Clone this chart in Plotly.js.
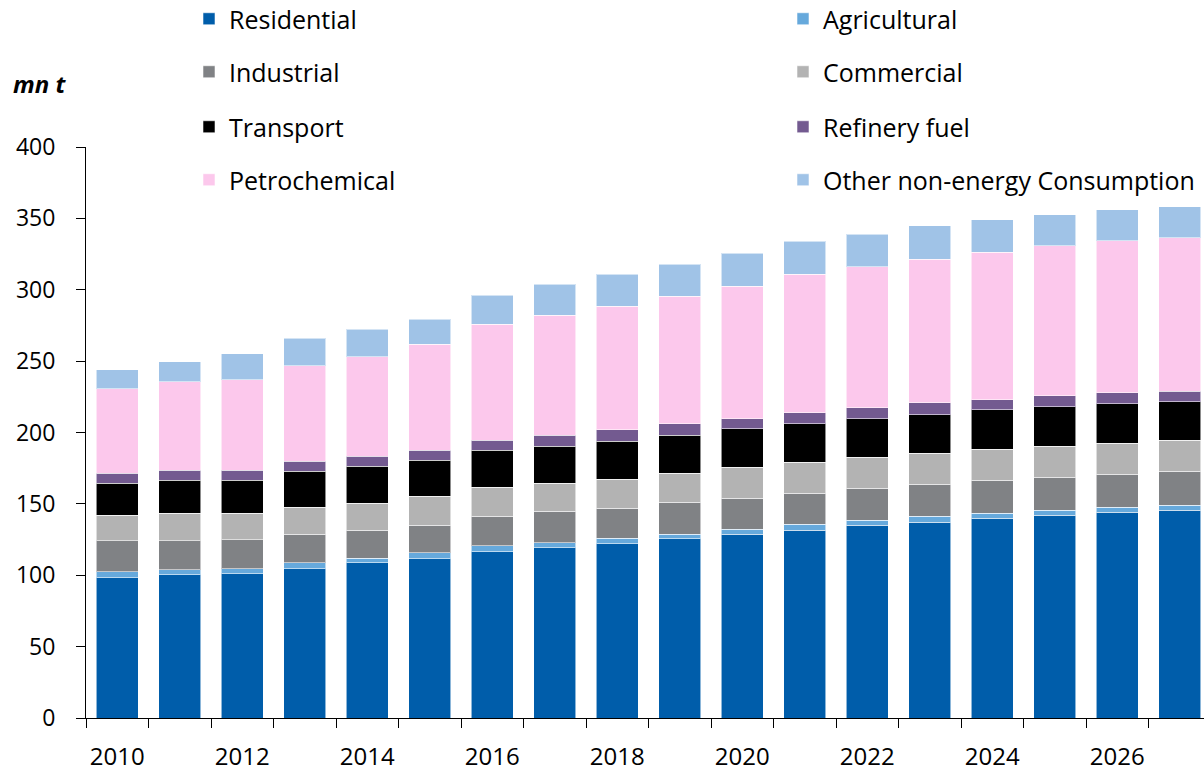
<!DOCTYPE html>
<html>
<head>
<meta charset="utf-8">
<script src="https://cdn.plot.ly/plotly-3.0.1.min.js"></script>
<style>html,body{margin:0;padding:0;background:#fff;}#chart{width:1204px;height:770px;}</style>
</head>
<body>
<div id="chart"></div>
<script>
const years = [2010,2011,2012,2013,2014,2015,2016,2017,2018,2019,2020,2021,2022,2023,2024,2025,2026,2027];
const tickYears = [2010,2012,2014,2016,2018,2020,2022,2024,2026];

const residential   = [98.1,100.2,100.9,104.4,108.6,111.4,116.3,119.1,121.9,125.4,128.9,131.7,135.2,137.3,140.1,142.2,144.3,145.7];
const agricultural  = [4.2,3.5,3.5,4.2,3.4,4.2,4.2,3.5,4.1,3.5,3.5,4.2,3.5,4.2,3.5,3.5,3.5,3.5];
const industrial    = [21.7,20.3,20.3,20.3,19.7,19.6,21.0,22.4,21.1,22.4,21.7,21.7,22.4,22.4,23.1,23.1,23.1,23.8];
const commercial    = [18.2,19.6,18.9,18.9,18.9,20.3,20.3,19.6,20.3,20.3,21.7,21.7,21.7,21.7,21.7,21.7,21.7,21.7];
const transport     = [22.4,23.1,23.1,25.2,25.9,25.2,25.9,25.9,26.6,26.6,26.7,26.7,26.7,26.7,27.4,27.4,27.4,26.7];
const refineryFuel  = [7.0,7.0,7.0,7.0,7.0,7.0,7.0,7.7,7.8,7.8,7.0,7.7,7.7,8.4,7.0,7.7,7.7,7.6];
const petrochemical = [58.9,61.7,63.1,66.6,69.4,74.3,81.3,84.1,86.8,89.6,93.1,97.3,98.8,100.8,103.6,105.1,106.5,107.3];
const otherNonEnergy= [13.5,14.0,18.2,19.4,19.6,17.5,20.3,21.7,22.4,22.4,23.1,23.0,23.0,23.2,22.5,21.7,21.7,21.7];

const seriesNames = ['Residential','Agricultural','Industrial','Commercial','Transport','Refinery fuel','Petrochemical','Other non-energy Consumption'];
const seriesValues = [residential, agricultural, industrial, commercial, transport, refineryFuel, petrochemical, otherNonEnergy];
const seriesColors = ['#005DAA','#66A9DC','#808285','#B3B3B3','#000000','#735A90','#FCC8EC','#A0C3E7'];

const FONT = '"Open Sans", "Noto Sans", sans-serif';
const plotLeft = 86, plotRight = 1204, plotTop = 147, plotBottom = 718;
const pw = plotRight - plotLeft, ph = plotBottom - plotTop;
const px = v => (v - plotLeft) / pw;
const py = v => (plotBottom - v) / ph;

// legend grid: 2 columns x 4 rows, one legend per entry
const legendCols = [189, 783];
const legendRows = [19, 72, 127, 180];

const traces = seriesNames.map((name, i) => ({
  type: 'bar',
  name: name,
  x: years,
  y: seriesValues[i],
  legend: i === 0 ? 'legend' : 'legend' + (i + 1),
  marker: {color: seriesColors[i], line: {color: 'rgba(255,255,255,0.55)', width: 1}},
  hoverinfo: 'x+y+name'
}));

function legendAt(xp, yc) {
  return {
    orientation: 'v', x: px(xp), xanchor: 'left', y: py(yc), yanchor: 'middle',
    font: {family: FONT, size: 25, color: '#000'},
    bgcolor: 'rgba(0,0,0,0)', borderwidth: 0
  };
}

const layout = {
  width: 1204, height: 770,
  margin: {l: plotLeft, r: 1204 - plotRight, t: plotTop, b: 770 - plotBottom, pad: 0, autoexpand: false},
  paper_bgcolor: '#fff', plot_bgcolor: '#fff',
  barmode: 'stack', bargap: 0.333,
  font: {family: FONT, size: 24, color: '#000'},
  showlegend: true,
  xaxis: {
    type: 'linear',
    range: [2009.5, 2009.5 + pw / 62.5],
    tickmode: 'array', tickvals: tickYears, ticktext: tickYears.map(String),
    ticks: '', showgrid: false, zeroline: false,
    showline: true, linecolor: '#000', linewidth: 1,
    ticklabelstandoff: 17,
    tickfont: {family: FONT, size: 24, color: '#000'},
    minor: {tick0: 2009.5, dtick: 1, ticks: 'outside', ticklen: 9, tickcolor: '#000', tickwidth: 1, showgrid: false}
  },
  yaxis: {
    range: [0, 400], tickmode: 'array', tickvals: [0,50,100,150,200,250,300,350,400],
    ticks: 'outside', ticklen: 9, tickcolor: '#000', tickwidth: 1,
    showgrid: false, zeroline: false,
    showline: true, linecolor: '#000', linewidth: 1,
    ticklabelstandoff: 16,
    tickfont: {family: FONT, size: 23, color: '#000'}
  },
  annotations: [{
    text: '<b><i>mn t</i></b>', xref: 'paper', yref: 'paper',
    x: px(11), xanchor: 'left', y: py(83), yanchor: 'middle',
    showarrow: false, font: {family: FONT, size: 24, color: '#000'}
  }]
};

seriesNames.forEach((n, i) => {
  const key = i === 0 ? 'legend' : 'legend' + (i + 1);
  layout[key] = legendAt(legendCols[i % 2], legendRows[Math.floor(i / 2)]);
});

Plotly.newPlot('chart', traces, layout, {displayModeBar: false, staticPlot: true});
</script>
</body>
</html>
